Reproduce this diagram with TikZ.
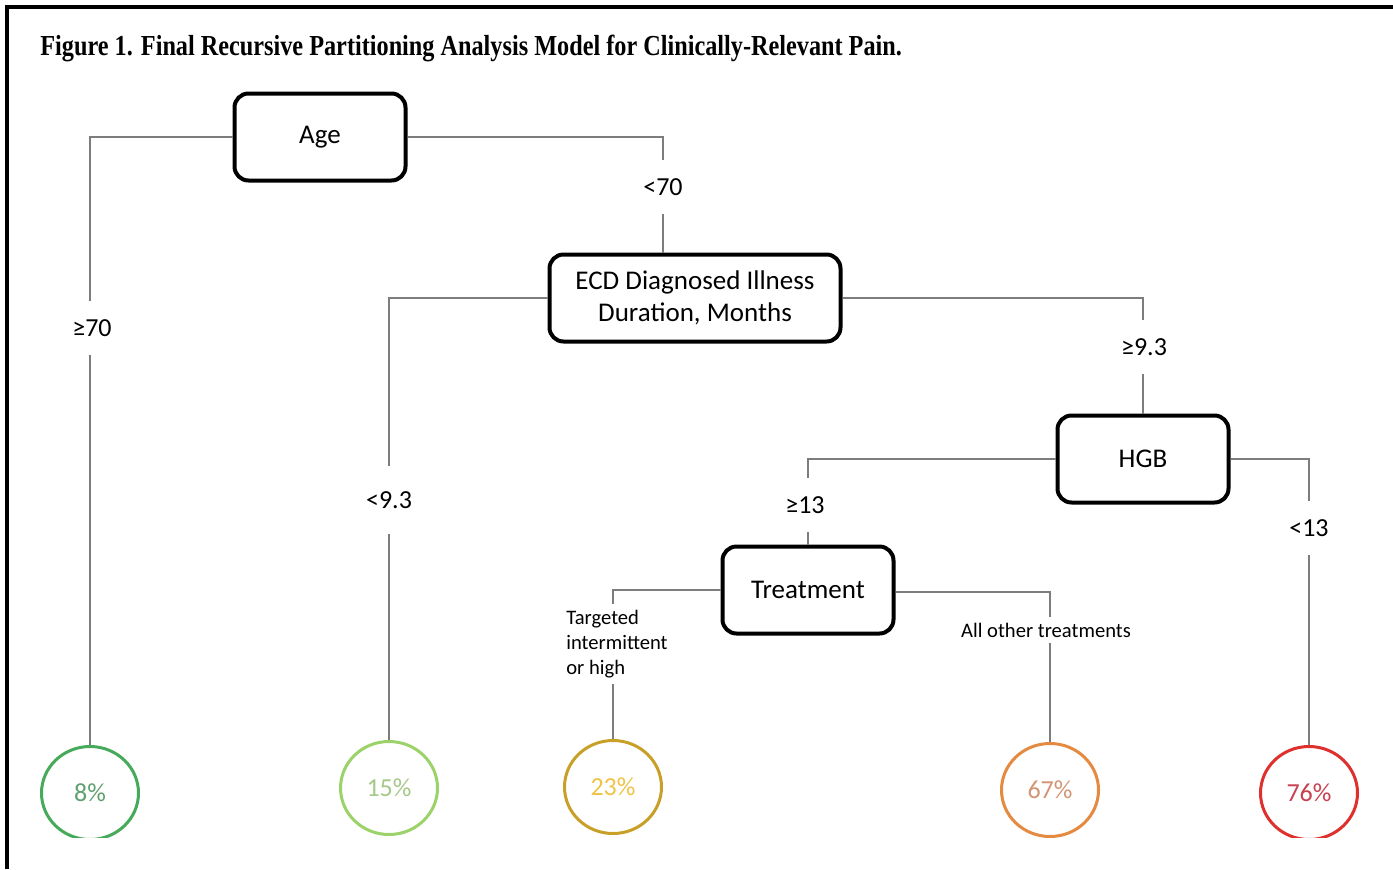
\documentclass[tikz,border=0pt]{standalone}
\usepackage{fontspec}
\setmainfont{Liberation Serif}
\newfontfamily\calib{Carlito}
\usetikzlibrary{positioning,shapes.geometric}
\definecolor{linkgray}{RGB}{125,125,125}
\definecolor{leafA}{RGB}{70,170,90}
\definecolor{leafAtxt}{RGB}{95,160,110}
\definecolor{leafB}{RGB}{155,210,105}
\definecolor{leafBtxt}{RGB}{165,200,135}
\definecolor{leafC}{RGB}{200,160,40}
\definecolor{leafCtxt}{RGB}{240,195,70}
\definecolor{leafD}{RGB}{228,138,65}
\definecolor{leafDtxt}{RGB}{210,150,115}
\definecolor{leafE}{RGB}{222,48,44}
\definecolor{leafEtxt}{RGB}{200,65,80}
\begin{document}
\begin{tikzpicture}[x=0.5pt,y=-0.5pt,
  splitbox/.style={draw=black, line width=2pt, rounded corners=7pt,
    minimum width=85.5pt, minimum height=43.5pt, align=center,
    font=\calib\fontsize{13.5}{16}\selectfont},
  leaf/.style={ellipse, line width=1.5pt, minimum width=48.5pt,
    minimum height=46.5pt, font=\calib\fontsize{13}{15}\selectfont},
  link/.style={draw=linkgray, line width=0.55pt},
  cut/.style={fill=white, inner sep=2pt, minimum height=27pt,
    font=\calib\fontsize{13}{15}\selectfont},
  smallcut/.style={fill=white, inner sep=3pt, align=left,
    font=\calib\fontsize{10.3}{12.5}\selectfont}]
\useasboundingbox (0,0) rectangle (1393,869);
% frame
\draw[line width=2pt] (7,869) -- (7,7) -- (1393,7);
\node[anchor=base west, inner sep=0pt, font=\bfseries\fontsize{14.5}{17}\selectfont] (title) at (40,55)
  {\scalebox{0.836}[1]{Figure 1. Final Recursive Partitioning Analysis Model for Clinically-Relevant Pain.}};

% split nodes
\node[splitbox] (age) at (320,137) {Age};
\node[splitbox, minimum width=145.5pt] (ecd) at (695,298) {ECD Diagnosed Illness\\Duration, Months};
\node[splitbox] (hgb) at (1143,459) {HGB};
\node[splitbox] (treat) at (808,590) {Treatment};

% leaves
\begin{scope}
\clip (0,0) rectangle (1393,837);
\node[leaf, draw=leafA, text=leafAtxt] (p8) at (90,793) {8\%};
\node[leaf, draw=leafB, text=leafBtxt] (p15) at (389,788) {15\%};
\node[leaf, draw=leafC, text=leafCtxt] (p23) at (613,787) {23\%};
\node[leaf, draw=leafD, text=leafDtxt] (p67) at (1050,790) {67\%};
\node[leaf, draw=leafE, text=leafEtxt] (p76) at (1309,793) {76\%};
\end{scope}

% connectors
\draw[link] (age.west) -| (p8.north);
\draw[link] (age.east) -| ([xshift=-16pt]ecd.north);
\draw[link] (ecd.west) -| (p15.north);
\draw[link] (ecd.east) -| (hgb.north);
\draw[link] (hgb.west) -| (treat.north);
\draw[link] (hgb.east) -| (p76.north);
\draw[link] (treat.west) -| (p23.north);
\draw[link] ([yshift=-1pt]treat.east) -| (p67.north);

% split labels
\node[cut] (ge70) at (92,328) {≥70};
\node[cut] (lt70) at (663,187) {<70};
\node[cut, minimum height=34pt] (lt93) at (389,500) {<9.3};
\node[cut] (ge93) at (1144,347) {≥9.3};
\node[cut] (ge13) at (805,505) {≥13};
\node[cut] (lt13) at (1309,528) {<13};
\node[smallcut] (tih) at (617,644) {Targeted\\intermittent\\or high};
\node[smallcut] (other) at (1046,630) {All other treatments};
\end{tikzpicture}
\end{document}
